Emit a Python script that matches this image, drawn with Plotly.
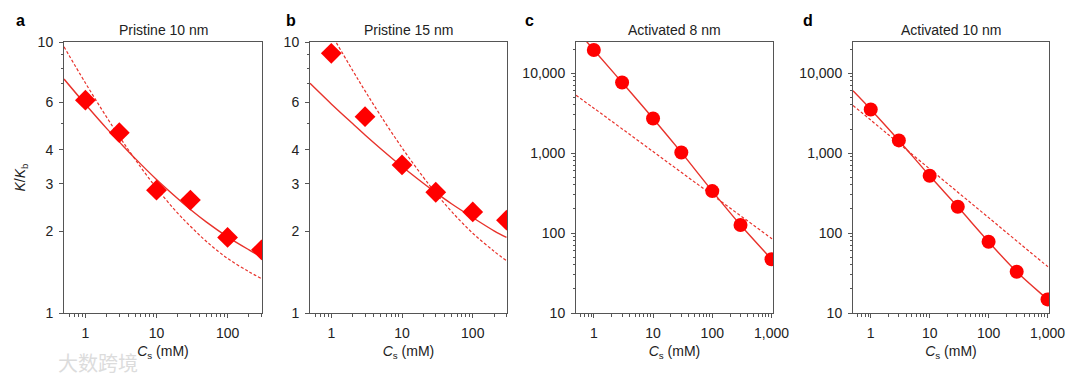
import plotly.graph_objects as go
import math

# ---- data ----
cs_pts = [1, 3, 10, 30, 100, 300, 1000]

# Panel a: Pristine 10 nm
a_pts = [6.1, 4.63, 2.84, 2.61, 1.90, 1.71]
fit_x = [0.5, 1, 2, 3, 5, 10, 20, 30, 50, 100, 200, 300]
a_solid = [7.30, 5.89, 4.79, 4.28, 3.72, 3.11, 2.64, 2.41, 2.17, 1.91, 1.71, 1.61]
a_dash = [9.60, 7.06, 5.27, 4.48, 3.69, 2.89, 2.33, 2.09, 1.84, 1.59, 1.42, 1.34]

# Panel b: Pristine 15 nm
b_pts = [9.08, 5.30, 3.52, 2.79, 2.36, 2.20]
b_solid = [7.04, 5.91, 5.00, 4.54, 4.04, 3.47, 3.01, 2.78, 2.53, 2.25, 2.01, 1.90]
b_dash_x = [1, 2, 3, 5, 10, 20, 30, 50, 100, 200, 300]
b_dash = [10.7, 7.86, 6.60, 5.34, 4.07, 3.17, 2.77, 2.37, 1.97, 1.69, 1.56]

# Panel c: Activated 8 nm
c_pts = [19500, 7660, 2715, 1020, 335, 126, 47]
c_solid_x = [0.5, 1, 3, 10, 30, 100, 300, 1000, 1050]
c_solid = [35500, 19500, 7660, 2715, 1020, 335, 126, 47, 45]
c_dash_x = [0.5, 1, 10, 100, 1000, 1050]
c_dash = [5300, 3650, 1045, 299, 85.7, 83.4]

# Panel d: Activated 10 nm
d_pts = [3520, 1442, 520, 213, 78, 32.8, 14.8]
d_solid_x = [0.5, 1, 3, 10, 30, 100, 300, 1000, 1050]
d_solid = [6010, 3520, 1442, 520, 213, 78, 32.8, 14.8, 14.3]
d_dash_x = [0.5, 1, 10, 100, 1000, 1050]
d_dash = [3950, 2590, 635, 156, 38.3, 37.3]

titles = ["Pristine 10 nm", "Pristine 15 nm", "Activated 8 nm", "Activated 10 nm"]
letters = ["a", "b", "c", "d"]

# ---- style ----
RED_LINE = "#e8322b"
RED_MARK = "#ff0000"
FONT = "Liberation Sans, Arial, sans-serif"
W, H = 1080, 384
OFF = 8  # page body margin offset
panels_px = [(64, 262), (310, 507), (576, 773), (853, 1049)]
y_top, y_bot = 42, 313

def fx(px):
    return (px - OFF) / W

def fy(py):
    return 1 - (py - OFF) / H

ydom = [fy(y_bot), fy(y_top)]

fig = go.Figure()

def add_panel(i, pts_y, pts_x, solid_x, solid_y, dash_x, dash_y, symbol, msize):
    ax = "" if i == 0 else str(i + 1)
    xa, ya = "x" + ax, "y" + ax
    fig.add_trace(go.Scatter(x=dash_x, y=dash_y, mode="lines", xaxis=xa, yaxis=ya,
                             line=dict(color=RED_LINE, width=1.2, dash="3px,2px"),
                             line_shape="spline", showlegend=False, hoverinfo="skip"))
    fig.add_trace(go.Scatter(x=solid_x, y=solid_y, mode="lines", xaxis=xa, yaxis=ya,
                             line=dict(color=RED_LINE, width=1.4),
                             line_shape="spline", showlegend=False, hoverinfo="skip"))
    fig.add_trace(go.Scatter(x=pts_x, y=pts_y, mode="markers", xaxis=xa, yaxis=ya,
                             marker=dict(symbol=symbol, size=msize, color=RED_MARK, line=dict(width=0)),
                             showlegend=False))

add_panel(0, a_pts, cs_pts[:6], fit_x, a_solid, fit_x, a_dash, "diamond", 16)
add_panel(1, b_pts, cs_pts[:6], fit_x, b_solid, b_dash_x, b_dash, "diamond", 16)
add_panel(2, c_pts, cs_pts, c_solid_x, c_solid, c_dash_x, c_dash, "circle", 14)
add_panel(3, d_pts, cs_pts, d_solid_x, d_solid, d_dash_x, d_dash, "circle", 14)

x_minor_small = [0.6, 0.7, 0.8, 0.9, 2, 3, 4, 5, 6, 7, 8, 9, 20, 30, 40, 50, 60, 70, 80, 90, 200, 300]
x_minor_big = x_minor_small + [400, 500, 600, 700, 800, 900]
layout = {}
for i, (x0, x1) in enumerate(panels_px):
    ax = "" if i == 0 else str(i + 1)
    big = i >= 2
    xr = [math.log10(0.5), math.log10(1060 if big else 305)]
    xtv = [1, 10, 100, 1000] if big else [1, 10, 100]
    xtt = ["1", "10", "100", "1,000"] if big else ["1", "10", "100"]
    layout["xaxis" + ax] = dict(
        type="log", domain=[fx(x0), fx(x1)], range=xr, anchor="y" + ax,
        tickvals=xtv, ticktext=xtt, ticks="outside", ticklen=4, tickwidth=1, tickcolor="#555",
        minor=dict(tickvals=x_minor_big if big else x_minor_small, ticks="outside", ticklen=2.5,
                   tickcolor="#555", tickwidth=1),
        ticklabelstandoff=3,
        showline=True, linecolor="#555", linewidth=1, mirror=True, showgrid=False, zeroline=False,
        tickfont=dict(family=FONT, size=14, color="#222"),
        title=dict(text="<i>C</i><sub>s</sub> (mM)", font=dict(family=FONT, size=14, color="#222"),
                   standoff=6),
    )
    if big:
        ytv = [10, 100, 1000, 10000]
        ytt = ["10", "100", "1,000", "10,000"]
        ymin = [20, 30, 40, 50, 60, 70, 80, 90, 200, 300, 400, 500, 600, 700, 800, 900,
                2000, 3000, 4000, 5000, 6000, 7000, 8000, 9000, 20000]
        yr = [1, 4.39]
    else:
        ytv = [1, 2, 3, 4, 6, 10]
        ytt = ["1", "2", "3", "4", "6", "10"]
        ymin = [5, 7, 8, 9]
        yr = [0, 1]
    layout["yaxis" + ax] = dict(
        type="log", domain=ydom, range=yr, anchor="x" + ax,
        tickvals=ytv, ticktext=ytt, ticks="outside", ticklen=4, tickwidth=1, tickcolor="#555",
        minor=dict(tickvals=ymin, ticks="outside", ticklen=2.5, tickcolor="#555", tickwidth=1),
        ticklabelstandoff=3,
        showline=True, linecolor="#555", linewidth=1, mirror=True, showgrid=False, zeroline=False,
        tickfont=dict(family=FONT, size=14, color="#222"),
    )
layout["yaxis"]["title"] = dict(text="<i>K</i>/<i>K</i><sub>b</sub>",
                                font=dict(family=FONT, size=14, color="#222"), standoff=8)

annotations = []
letter_x = [20, 291, 529, 808]
for i, (x0, x1) in enumerate(panels_px):
    annotations.append(dict(text=titles[i], x=fx((x0 + x1) / 2), y=fy(30), xref="paper", yref="paper",
                            showarrow=False, font=dict(family=FONT, size=14, color="#222"),
                            xanchor="center", yanchor="middle"))
    annotations.append(dict(text="<b>" + letters[i] + "</b>", x=fx(letter_x[i]), y=fy(21),
                            xref="paper", yref="paper", showarrow=False,
                            font=dict(family=FONT, size=16, color="#000"),
                            xanchor="center", yanchor="middle"))
annotations.append(dict(text="大数跨境", x=fx(98), y=fy(362), xref="paper", yref="paper",
                        showarrow=False, font=dict(family="Noto Sans CJK SC", size=20, color="#dcdcdc"),
                        xanchor="center", yanchor="middle"))

fig.update_layout(width=W, height=H, margin=dict(l=0, r=0, t=0, b=0, autoexpand=False),
                  paper_bgcolor="white", plot_bgcolor="white",
                  annotations=annotations, **layout)
fig.write_html("out.html")
